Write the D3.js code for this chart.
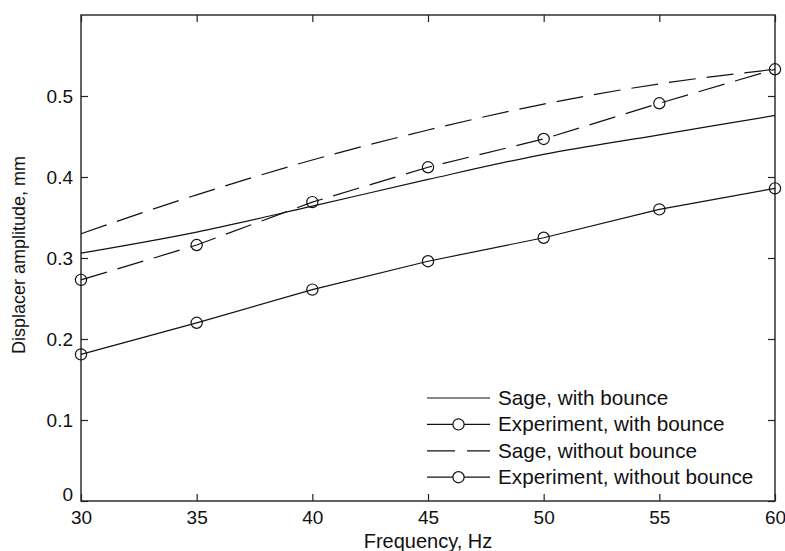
<!DOCTYPE html>
<html>
<head>
<meta charset="utf-8">
<script src="https://d3js.org/d3.v7.min.js"></script>
<style>
    body { margin: 0; background: #fff; }
    svg { display: block; font-family: "Liberation Sans", Arial, sans-serif; }
</style>
</head>
<body>
<svg id="chart" width="785" height="551"></svg>
<script>
// data
let frequency = [30, 35, 40, 45, 50, 55, 60];
let sageWithBounce = [0.306, 0.332, 0.364, 0.397, 0.428, 0.452, 0.476];
let expWithBounce = [0.273, 0.316, 0.369, 0.412, 0.447, 0.491, 0.533];
let sageWithoutBounce = [0.330, 0.378, 0.421, 0.458, 0.490, 0.515, 0.533];
let expWithoutBounce = [0.181, 0.220, 0.261, 0.296, 0.325, 0.360, 0.386];

let xTicks = [30, 35, 40, 45, 50, 55, 60];
let yTicks = [0, 0.1, 0.2, 0.3, 0.4, 0.5];

let legendLabels = ["Sage, with bounce", "Experiment, with bounce",
    "Sage, without bounce", "Experiment, without bounce"];

let svg = d3.select("#chart");

let plotLeft = 81, plotRight = 775, plotTop = 15, plotBottom = 501;
let tickLen = 7;

let xScale = d3.scaleLinear().domain([30, 60]).range([plotLeft, plotRight]);
let yScale = d3.scaleLinear().domain([0, 0.6]).range([plotBottom, plotTop]);

// series definitions
let series = [
    {label: legendLabels[0], values: sageWithBounce, dash: null, markers: false, smooth: true},
    {label: legendLabels[1], values: expWithBounce, dash: "27,11", markers: true, smooth: false},
    {label: legendLabels[2], values: sageWithoutBounce, dash: "27,11", markers: false, smooth: true},
    {label: legendLabels[3], values: expWithoutBounce, dash: null, markers: true, smooth: false}
];

// axes - MATLAB style box with inward ticks on every side
let xAxisBottom = d3.axisBottom(xScale).tickValues(xTicks).tickSizeInner(-tickLen).tickSizeOuter(0).tickFormat(d3.format("d"));
let xAxisTop = d3.axisTop(xScale).tickValues(xTicks).tickSizeInner(-tickLen).tickSizeOuter(0).tickFormat("");
let yAxisLeft = d3.axisLeft(yScale).tickValues(yTicks).tickSizeInner(-tickLen).tickSizeOuter(0).tickFormat(d => d === 0 ? "0" : d3.format(".1f")(d));
let yAxisRight = d3.axisRight(yScale).tickValues(yTicks).tickSizeInner(-tickLen).tickSizeOuter(0).tickFormat("");

let gx = svg.append("g").attr("transform", "translate(0," + plotBottom + ")").call(xAxisBottom);
svg.append("g").attr("transform", "translate(0," + plotTop + ")").call(xAxisTop);
let gy = svg.append("g").attr("transform", "translate(" + plotLeft + ",0)").call(yAxisLeft);
svg.append("g").attr("transform", "translate(" + plotRight + ",0)").call(yAxisRight);

svg.selectAll(".domain").remove();
svg.selectAll(".tick line").attr("stroke", "#222").attr("stroke-width", 1.2);

gx.selectAll("text")
    .attr("dy", null)
    .attr("y", 23)
    .attr("fill", "#111")
    .style("font-size", "19px");

gy.selectAll("text")
    .attr("x", -8)
    .attr("dy", "0.35em")
    .attr("fill", "#111")
    .style("font-size", "19px");
// MATLAB nudges the zero label up away from the x labels
gy.selectAll(".tick").filter(d => d === 0).select("text").attr("dy", "-0.05em");

// box
svg.append("rect")
    .attr("x", plotLeft).attr("y", plotTop)
    .attr("width", plotRight - plotLeft).attr("height", plotBottom - plotTop)
    .attr("fill", "none")
    .attr("stroke", "#222")
    .attr("stroke-width", 1.4);

// axis labels
svg.append("text")
    .attr("x", (plotLeft + plotRight) / 2)
    .attr("y", 548)
    .attr("text-anchor", "middle")
    .attr("fill", "#111")
    .style("font-size", "20px")
    .text("Frequency, Hz");

svg.append("text")
    .attr("transform", "translate(25,255) rotate(-90)")
    .attr("text-anchor", "middle")
    .attr("fill", "#111")
    .style("font-size", "18px")
    .text("Displacer amplitude, mm");

// lines
let plot = svg.append("g");

for (let s of series) {
    let pts = frequency.map((f, i) => [f, s.values[i]]);
    let line = d3.line()
        .x(d => xScale(d[0]))
        .y(d => yScale(d[1]))
        .curve(s.smooth ? d3.curveMonotoneX : d3.curveLinear);

    plot.append("path")
        .datum(pts)
        .attr("d", line)
        .attr("fill", "none")
        .attr("stroke", "#111")
        .attr("stroke-width", 1.2)
        .attr("stroke-dasharray", s.dash);

    if (s.markers) {
        plot.selectAll(null)
            .data(pts)
            .enter().append("circle")
            .attr("cx", d => xScale(d[0]))
            .attr("cy", d => yScale(d[1]))
            .attr("r", 5.6)
            .attr("fill", "none")
            .attr("stroke", "#111")
            .attr("stroke-width", 1.2);
    }
}

// legend (no box)
let legendX = 427, legendY = 398, rowH = 26.4, lineLen = 63;
let legend = svg.append("g");

series.forEach(function (s, i) {
    let y = legendY + i * rowH;
    legend.append("line")
        .attr("x1", legendX).attr("x2", legendX + lineLen)
        .attr("y1", y).attr("y2", y)
        .attr("stroke", "#111")
        .attr("stroke-width", 1.2)
        .attr("stroke-dasharray", i === 2 ? "28,12" : null);
    if (s.markers) {
        legend.append("circle")
            .attr("cx", legendX + lineLen / 2)
            .attr("cy", y)
            .attr("r", 5.6)
            .attr("fill", "#fff")
            .attr("stroke", "#111")
            .attr("stroke-width", 1.2);
    }
    legend.append("text")
        .attr("x", legendX + lineLen + 8)
        .attr("y", y + 7)
        .attr("fill", "#111")
        .style("font-size", "20.7px")
        .text(s.label);
});
</script>
</body>
</html>
